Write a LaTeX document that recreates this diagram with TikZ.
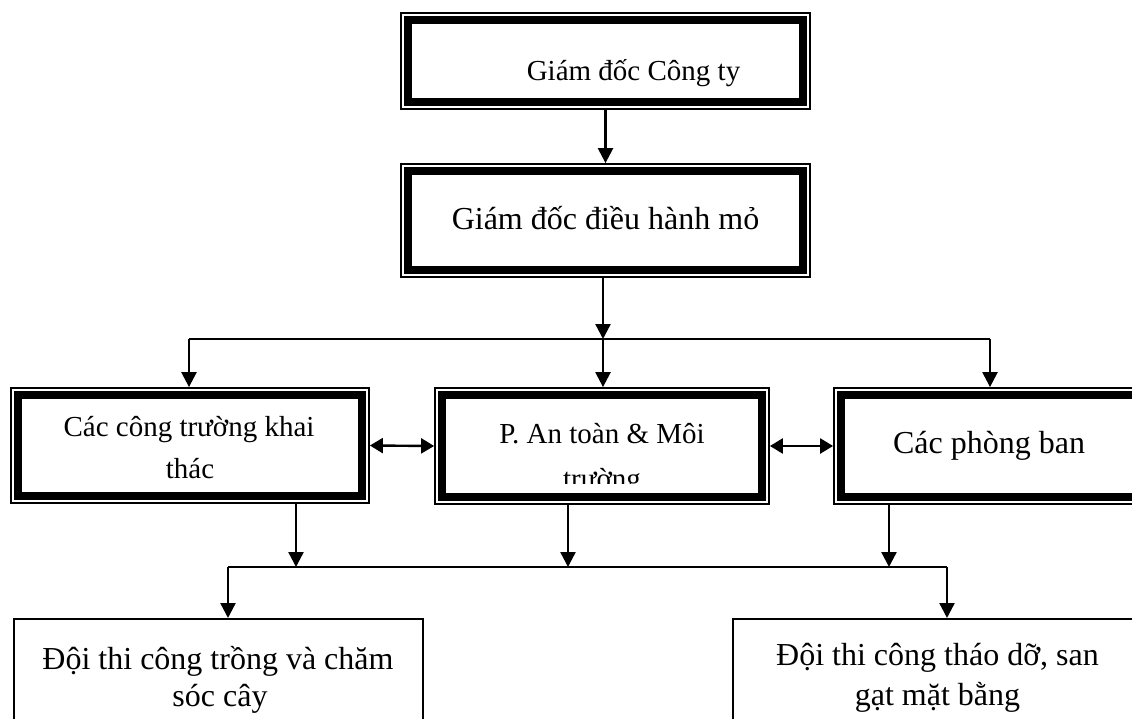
\documentclass[tikz,border=0pt]{standalone}
\usepackage{fontspec}
\setmainfont{Liberation Serif}
\usetikzlibrary{arrows.meta}
\tikzset{
  dbox/.style={draw, line width=1.8pt, inner sep=0pt, fill=white},
  thickborder/.style={draw, line width=7.5pt},
  pbox/.style={draw, line width=2pt, inner sep=0pt},
  lbl/.style={inner sep=0pt, anchor=base},
  arr/.style={-{Triangle[length=15pt,width=15pt]}, line width=2.4pt},
  arrtwo/.style={{Triangle[length=13pt,width=15pt]}-{Triangle[length=13pt,width=15pt]}, line width=2.4pt},
  conn/.style={line width=2.2pt},
}
\newcommand{\fsA}{\fontsize{29}{35}\selectfont}
\newcommand{\fsB}{\fontsize{32}{38}\selectfont}
\begin{document}
\begin{tikzpicture}[x=1pt,y=-1pt]
\useasboundingbox (0,0) rectangle (1132,719);
\clip (0,0) rectangle (1132,719);
\fill[white] (0,0) rectangle (1132,719);

% double-bordered boxes
\node[dbox, minimum width=409pt, minimum height=96pt] (A) at (605.5,61) {};
\node[dbox, minimum width=409pt, minimum height=113pt] (B) at (605.5,220.5) {};
\node[dbox, minimum width=358pt, minimum height=115pt] (C) at (190,445.5) {};
\node[dbox, minimum width=334pt, minimum height=116pt] (D) at (602,446) {};
\node[dbox, minimum width=311pt, minimum height=116pt] (E) at (989.5,446) {};
\foreach \n in {A,B,C,D,E}
  \draw[thickborder] ([shift={(8pt,-8pt)}]\n.north west) rectangle ([shift={(-8pt,8pt)}]\n.south east);

% plain boxes at the bottom
\node[pbox, minimum width=409pt, minimum height=140pt] (F) at (218.5,689) {};
\node[pbox, minimum width=409pt, minimum height=140pt] (G) at (937.5,689) {};

% texts
\node[lbl, font=\fsA] (tA) at (633.5,81) {Giám đốc Công ty};
\node[lbl, font=\fsB] (tB) at (605.5,230) {Giám đốc điều hành mỏ};
\node[lbl, font=\fsA] (tC1) at (189,436) {Các công trường khai};
\node[lbl, font=\fsA] (tC2) at (190,478) {thác};
\node[lbl, font=\fsA] (tD1) at (602,443) {P. An toàn \& Môi};
\begin{scope}
  \clip (446,399) rectangle (758,483);
  \node[lbl, font=\fsA] (tD2) at (602,488) {trường};
\end{scope}
\node[lbl, font=\fsB] (tE) at (989,453) {Các phòng ban};
\node[lbl, font=\fsB] (tF1) at (218,669) {Đội thi công trồng và chăm};
\node[lbl, font=\fsB] (tF2) at (220,706) {sóc cây};
\node[lbl, font=\fsB] (tG1) at (937.5,665) {Đội thi công tháo dỡ, san};
\node[lbl, font=\fsB] (tG2) at (937.5,705) {gạt mặt bằng};

% junction coordinates
\coordinate (j1) at (603,339);
\coordinate (hL) at (189,339);
\coordinate (hR) at (990,339);
\coordinate (k1) at (296,567);
\coordinate (k2) at (568,567);
\coordinate (k3) at (889,567);
\coordinate (mL) at (228,567);
\coordinate (mR) at (947,567);

% connectors
\draw[arr] (A.south) -- (B.north);
\draw[arr] (B.south -| j1) -- (j1);
\draw[conn] (hL) -- (hR);
\draw[arr] (hL) -- (hL |- C.north);
\draw[arr] (j1) -- (j1 |- D.north);
\draw[arr] (hR) -- (hR |- E.north);
\draw[arrtwo] (C.east) -- (D.west);
\draw[arrtwo] (D.east) -- (E.west);
\draw[arr] (C.south -| k1) -- (k1);
\draw[arr] (D.south -| k2) -- (k2);
\draw[arr] (E.south -| k3) -- (k3);
\draw[conn] (mL) -- (mR);
\draw[arr] (mL) -- (mL |- F.north);
\draw[arr] (mR) -- (mR |- G.north);
\end{tikzpicture}
\end{document}
